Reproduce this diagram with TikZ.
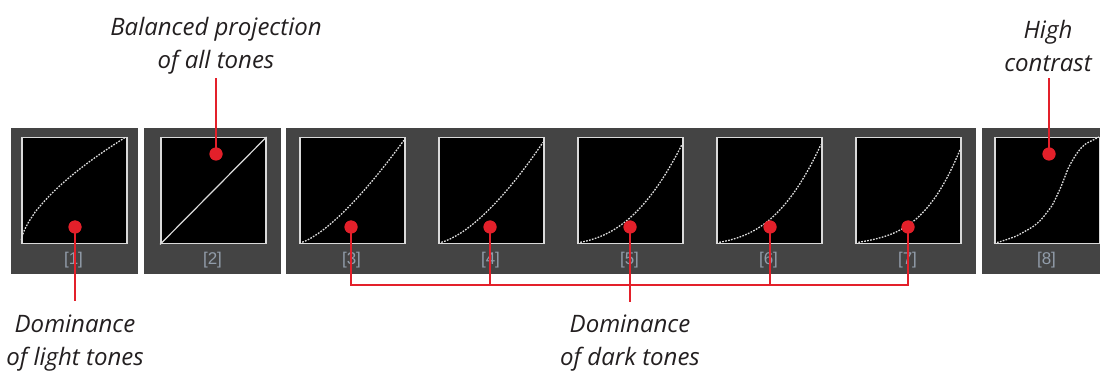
\documentclass[tikz,border=0pt]{standalone}
\usepackage{fontspec}
\newfontfamily\notefont{Open Sans}
\newfontfamily\tagfont{Liberation Sans}
\definecolor{panelgray}{HTML}{444444}
\definecolor{marker}{HTML}{E3202A}
\definecolor{ink}{HTML}{231F20}
\definecolor{framegray}{HTML}{DADADA}
\definecolor{tracegray}{HTML}{DCDCDC}
\definecolor{taggray}{HTML}{929DAA}
\tikzset{
  panel/.style={fill=panelgray, draw=none},
  plotbox/.style={fill=black, draw=framegray, line width=1.5pt, inner sep=0pt,
    minimum width=105pt, minimum height=106pt, anchor=north west},
  trace/.style={draw=tracegray, line width=1.3pt, dash pattern=on 1.7pt off 1.3pt},
  solidtrace/.style={draw=tracegray, line width=1.2pt},
  tagtext/.style={text=taggray, font=\tagfont\fontsize{17}{17}\selectfont},
  dot/.style={circle, fill=marker, inner sep=0pt, minimum size=13pt},
  lead/.style={draw=marker, line width=2.6pt},
  note/.style={text=ink, font=\notefont\itshape\fontsize{24}{33}\selectfont, align=center},
}
\begin{document}
\begin{tikzpicture}[x=1pt,y=-1pt]
\useasboundingbox (0,0) rectangle (1100,371);

% dark strips behind the thumbnails
\fill[panel] (11,128) rectangle (138,274);
\fill[panel] (144,128) rectangle (281,274);
\fill[panel] (286,128) rectangle (976,274);
\fill[panel] (982,128) rectangle (1100,274);

% thumbnails with their index tags
\foreach \i in {1,...,8}{
  \pgfmathsetmacro\xo{21+139*(\i-1)}
  \node[plotbox] (s\i) at (\xo,137) {};
  \node[tagtext] (l\i) at (\xo+52.5,260) {[\i]};
}

% tone curves: y = s*(a*x + (1-a)*x^g)
\draw[trace] plot[domain=0.003:1, samples=70]
  ({21+105*\x},{243-106*(\x^0.62)});
\draw[solidtrace] (s2.south west) -- (s2.north east);
\foreach \i/\g/\a/\s in {3/1.4/0/0.97, 4/1.6/0.1/0.95, 5/2.4/0.2/0.93,
                          6/2.65/0.2/0.93, 7/3.2/0.2/0.88}{
  \pgfmathsetmacro\xo{21+139*(\i-1)}
  \draw[trace] plot[domain=0.003:1, samples=70]
    ({\xo+105*\x},{243-106*\s*(\a*\x+(1-\a)*\x^\g)});
}
\draw[trace] plot[smooth] coordinates {
  (994,243) (999,242) (1015,236.6) (1025,231.3) (1033,226.6) (1041,219.7)
  (1048,211) (1053,203.8) (1061,186.7) (1069,166.7) (1078,151.8)
  (1085,144.4) (1094,139.6) (1099,137)};

% leader lines
\coordinate (e1) at (75,301);
\coordinate (e2) at (216,78);
\coordinate (e8) at (1049,78);
\coordinate (j3) at (351,285);
\coordinate (j7) at (908,285);
\coordinate (e5) at (630,302);

\node[dot] (d1) at (75,227) {};
\node[dot] (d2) at (216,154) {};
\node[dot] (d3) at (351,227) {};
\node[dot] (d4) at (490,227) {};
\node[dot] (d5) at (630,227) {};
\node[dot] (d6) at (770,227) {};
\node[dot] (d7) at (908,227) {};
\node[dot] (d8) at (1049,154) {};

\draw[lead] (d1.center) -- (e1);
\draw[lead] (d2.center) -- (e2);
\draw[lead] (d8.center) -- (e8);
\draw[lead] (d3.center) -- (j3) -- (j7) -- (d7.center);
\draw[lead] (d4.center) -- (d4.center |- j3);
\draw[lead] (d6.center) -- (d6.center |- j3);
\draw[lead] (d5.center) -- (e5);

\foreach \i in {1,...,8}{\node[dot] at (d\i) {};}

% captions
\node[note] (n2) at (216,46) {Balanced projection\\of all tones};
\node[note] (n8) at (1048,46) {High\\contrast};
\node[note] (n1) at (75,343) {Dominance\\of light tones};
\node[note] (n5) at (630,343) {Dominance\\of dark tones};
\end{tikzpicture}
\end{document}
